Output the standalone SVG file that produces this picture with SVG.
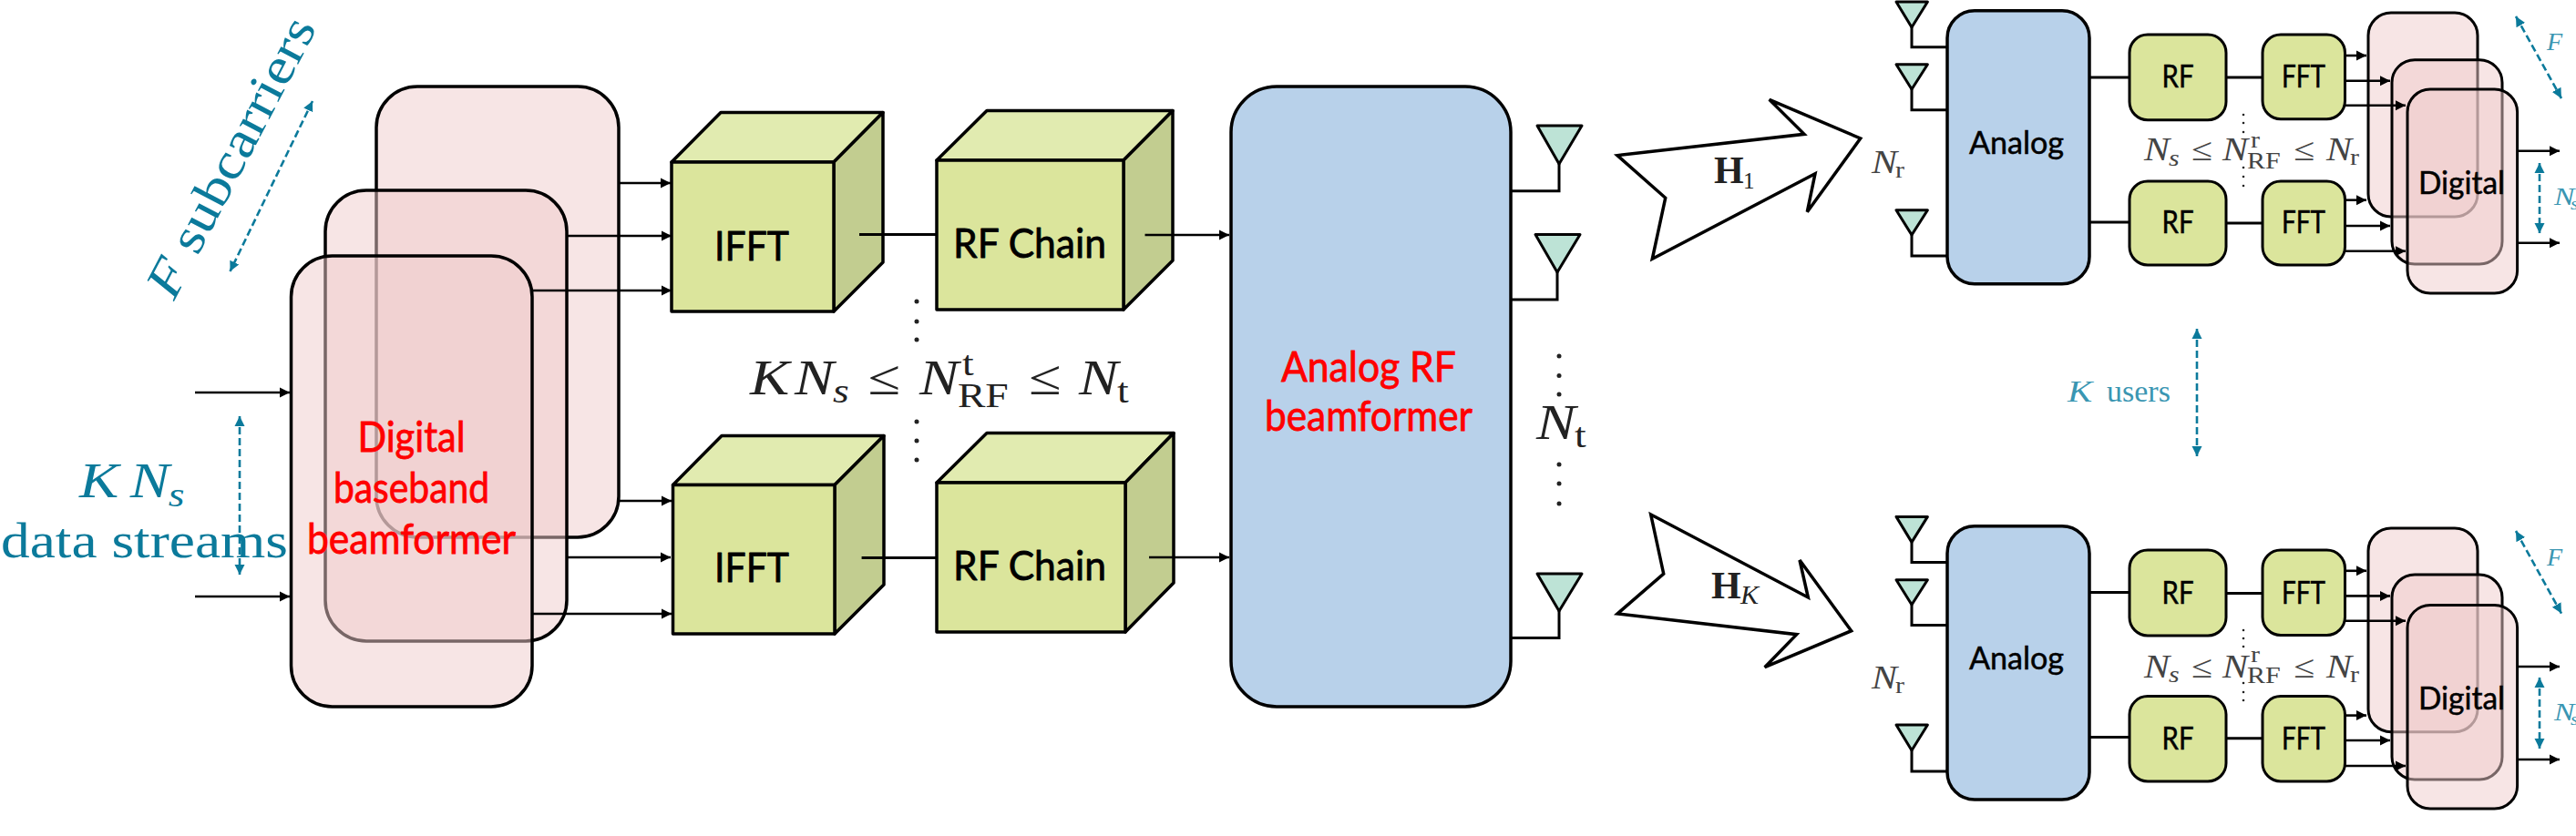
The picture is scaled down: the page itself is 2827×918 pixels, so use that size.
<svg xmlns="http://www.w3.org/2000/svg" width="2827" height="918" viewBox="0 0 2827 918">
<style>
.bk{stroke:#000;stroke-width:3.5;stroke-linejoin:round}
.pink{fill:rgb(240,203,203);fill-opacity:.5;stroke:#000;stroke-width:3.5}
.pk{fill:rgb(240,203,203);fill-opacity:.5;stroke:#000;stroke-width:3}
.blue{fill:#b8d1ea;stroke:#000;stroke-width:3.5}
.f{fill:#dbe59c}.t{fill:#e1ebb0}.s{fill:#c2cd90}
.cube{stroke:#000;stroke-width:3.5;stroke-linejoin:round}
.gr{fill:#dbe59c;stroke:#000;stroke-width:3}
.ant{fill:#bde3d6;stroke:#000;stroke-width:3;stroke-linejoin:round}
.wire{fill:none;stroke:#000;stroke-width:3}
.arr{fill:none;stroke:#000;stroke-width:2.6;marker-end:url(#ah)}
.dash{fill:none;stroke:#0b7a9b;stroke-width:2.6;stroke-dasharray:8 4;marker-start:url(#dh);marker-end:url(#dh)}
.wedge{fill:#fff;stroke:#000;stroke-width:3.5;stroke-linejoin:miter}
.sans{font-family:"Lato","Open Sans","Liberation Sans",sans-serif;text-anchor:middle}
.lab{font-size:45px;fill:#000;stroke:#000;stroke-width:.8}
.red{font-size:47px;fill:#f00;stroke:#f00;stroke-width:.8}
.sm{font-size:34px;fill:#000;stroke:#000;stroke-width:.5}
.m{font-family:"Liberation Serif","DejaVu Serif",serif}
.i{font-style:italic}
.teal{fill:#0b7a9b}
.lt{fill:#3a96b2}
.mk{fill:#222}
.gy{fill:#444}
.dot{fill:#222}
</style>
<defs>
<marker id="ah" markerUnits="userSpaceOnUse" markerWidth="14" markerHeight="14" refX="11" refY="7" orient="auto"><path d="M0,1.500 L11,7 L0,12.500 Z" fill="#000"/></marker>
<marker id="dh" markerUnits="userSpaceOnUse" markerWidth="14" markerHeight="14" refX="11" refY="7" orient="auto-start-reverse"><path d="M0,1.500 L11,7 L0,12.500 Z" fill="#0b7a9b"/></marker>
</defs>

<g id="digital-baseband">
<rect class="pink" x="413" y="95" width="266" height="495" rx="45" ry="45"/>
<rect class="pink" x="357" y="209" width="265" height="495" rx="45" ry="45"/>
<rect class="pink" x="319.500" y="281" width="264.500" height="495" rx="45" ry="45"/>
<text class="sans red" x="451.500" y="496" textLength="118" lengthAdjust="spacingAndGlyphs">Digital</text>
<text class="sans red" x="451.500" y="552" textLength="171" lengthAdjust="spacingAndGlyphs">baseband</text>
<text class="sans red" x="451.500" y="608" textLength="229" lengthAdjust="spacingAndGlyphs">beamformer</text>
</g>

<g id="ifft-1" class="cube">
<path class="t" d="M737,178 L791,123.500 H969 L915,178 Z"/>
<path class="s" d="M915,178 L969,123.500 V288 L915,342 Z"/>
<rect class="f" x="737" y="178" width="178" height="164"/>
<text class="sans lab" x="825" y="286" textLength="82" lengthAdjust="spacingAndGlyphs">IFFT</text>
</g>
<g id="ifft-2" class="cube">
<path class="t" d="M738.500,532.500 L792,478.500 H970 L916,532.500 Z"/>
<path class="s" d="M916,532.500 L970,478.500 V642 L916,696 Z"/>
<rect class="f" x="738.500" y="532.500" width="177.500" height="163.500"/>
<text class="sans lab" x="825" y="639" textLength="82" lengthAdjust="spacingAndGlyphs">IFFT</text>
</g>
<g id="rf-chain-1" class="cube">
<path class="t" d="M1028,176 L1083,121.500 H1287 L1233,176 Z"/>
<path class="s" d="M1233,176 L1287,121.500 V286 L1233,340 Z"/>
<rect class="f" x="1028" y="176" width="205" height="164"/>
<text class="sans lab" x="1130" y="283" textLength="168" lengthAdjust="spacingAndGlyphs">RF Chain</text>
</g>
<g id="rf-chain-2" class="cube">
<path class="t" d="M1028,530 L1083,475.500 H1288 L1235,530 Z"/>
<path class="s" d="M1235,530 L1288,475.500 V640 L1235,694 Z"/>
<rect class="f" x="1028" y="530" width="207" height="164"/>
<text class="sans lab" x="1130" y="637" textLength="168" lengthAdjust="spacingAndGlyphs">RF Chain</text>
</g>

<g id="analog-rf-beamformer">
<rect class="blue" x="1351" y="95" width="307" height="681" rx="50" ry="50"/>
<text class="sans red" x="1502" y="419" textLength="192" lengthAdjust="spacingAndGlyphs">Analog RF</text>
<text class="sans red" x="1502" y="473" textLength="228" lengthAdjust="spacingAndGlyphs">beamformer</text>
</g>

<g id="tx-antennas">
<path class="ant" d="M1687,138 H1736 L1711,180 Z"/>
<path class="ant" d="M1685,257.500 H1734 L1709,299 Z"/>
<path class="ant" d="M1687,630 H1736 L1711,671 Z"/>
</g>

<g id="channel-1">
<polygon class="wedge" points="1775,170.700 1980,147.300 1941.700,109.300 2041.700,152 1983.300,232.700 1992,190.700 1813.300,284.300 1827.700,217.300"/>
<text class="m mk" x="1881" y="200.700" font-size="42" font-weight="bold">H<tspan x="1913" y="207" font-size="25" font-weight="normal">1</tspan></text>
</g>
<g id="channel-k">
<polygon class="wedge" points="1811.700,565 1984.300,656 1975,615 2031.700,692.700 1936.700,732.700 1971.700,696.700 1775,674 1825.700,630"/>
<text class="m mk" x="1878" y="657" font-size="42" font-weight="bold">H<tspan class="i" x="1910" y="663" font-size="30" font-weight="normal">K</tspan></text>
</g>

<g id="user-1">
<path class="ant" d="M2081,2 H2115.400 L2098,30 Z"/>
<path class="ant" d="M2081,70.700 H2115.400 L2098,98 Z"/>
<path class="ant" d="M2081,230.700 H2115.400 L2098,258 Z"/>
<rect class="blue" x="2137" y="11.700" width="156" height="300" rx="30" ry="30"/>
<text class="sans sm" x="2213" y="169" textLength="104" lengthAdjust="spacingAndGlyphs">Analog</text>
<rect class="gr" x="2337" y="38" width="106" height="93.700" rx="20" ry="20"/>
<text class="sans sm" x="2390" y="96" textLength="35" lengthAdjust="spacingAndGlyphs">RF</text>
<rect class="gr" x="2483" y="38" width="90.500" height="92.700" rx="20" ry="20"/>
<text class="sans sm" x="2528" y="96" textLength="48" lengthAdjust="spacingAndGlyphs">FFT</text>
<rect class="gr" x="2337" y="199" width="106" height="92" rx="20" ry="20"/>
<text class="sans sm" x="2390" y="256" textLength="35" lengthAdjust="spacingAndGlyphs">RF</text>
<rect class="gr" x="2483" y="199" width="90.500" height="92" rx="20" ry="20"/>
<text class="sans sm" x="2528" y="256" textLength="48" lengthAdjust="spacingAndGlyphs">FFT</text>
<rect class="pk" x="2599" y="14" width="120" height="224" rx="25" ry="25"/>
<rect class="pk" x="2625" y="65.700" width="121" height="224.300" rx="25" ry="25"/>
<rect class="pk" x="2642" y="98" width="120.600" height="224" rx="25" ry="25"/>
<text class="sans sm" x="2701.500" y="213" textLength="95" lengthAdjust="spacingAndGlyphs">Digital</text>
</g>

<g id="user-k">
<path class="ant" d="M2081,567.400 H2115.400 L2098,595.400 Z"/>
<path class="ant" d="M2081,636.700 H2115.400 L2098,664 Z"/>
<path class="ant" d="M2081,796 H2115.400 L2098,824 Z"/>
<rect class="blue" x="2137" y="577.700" width="156" height="300.300" rx="30" ry="30"/>
<text class="sans sm" x="2213" y="735" textLength="104" lengthAdjust="spacingAndGlyphs">Analog</text>
<rect class="gr" x="2337" y="604" width="106" height="94" rx="20" ry="20"/>
<text class="sans sm" x="2390" y="662.500" textLength="35" lengthAdjust="spacingAndGlyphs">RF</text>
<rect class="gr" x="2483" y="604" width="90.500" height="93.500" rx="20" ry="20"/>
<text class="sans sm" x="2528" y="662.500" textLength="48" lengthAdjust="spacingAndGlyphs">FFT</text>
<rect class="gr" x="2337" y="764.600" width="106" height="93.400" rx="20" ry="20"/>
<text class="sans sm" x="2390" y="823" textLength="35" lengthAdjust="spacingAndGlyphs">RF</text>
<rect class="gr" x="2483" y="764.600" width="90.500" height="93.400" rx="20" ry="20"/>
<text class="sans sm" x="2528" y="823" textLength="48" lengthAdjust="spacingAndGlyphs">FFT</text>
<rect class="pk" x="2599" y="580" width="120" height="223.700" rx="25" ry="25"/>
<rect class="pk" x="2625" y="631" width="121" height="225" rx="25" ry="25"/>
<rect class="pk" x="2642" y="664.400" width="120.600" height="223.600" rx="25" ry="25"/>
<text class="sans sm" x="2701.500" y="778.600" textLength="95" lengthAdjust="spacingAndGlyphs">Digital</text>
</g>

<g id="connectors">
<path class="arr" d="M214,431 H318"/>
<path class="arr" d="M214,655 H318"/>
<path class="arr" d="M679,201 H736"/>
<path class="arr" d="M622,259 H737"/>
<path class="arr" d="M584,319 H737"/>
<path class="arr" d="M679,550 H737"/>
<path class="arr" d="M622,612 H736"/>
<path class="arr" d="M584,674 H737"/>
<path class="wire" d="M943,257.500 H1028"/>
<path class="wire" d="M945.600,612.500 H1028"/>
<path class="arr" d="M1256.500,258 H1349"/>
<path class="arr" d="M1261,612 H1349"/>
<path class="wire" d="M1711,180 V209.700 H1658"/>
<path class="wire" d="M1709,299 V329 H1658"/>
<path class="wire" d="M1711,671 V700.600 H1658"/>
<path class="wire" d="M2098,30 V51.700 H2137"/>
<path class="wire" d="M2098,98 V120.700 H2137"/>
<path class="wire" d="M2098,258 V281 H2137"/>
<path class="wire" d="M2293,85 H2337"/>
<path class="wire" d="M2293,244 H2337"/>
<path class="wire" d="M2443,85 H2483"/>
<path class="wire" d="M2443,245 H2483"/>
<path class="arr" d="M2573.500,61 H2597"/>
<path class="arr" d="M2573.500,88.700 H2623"/>
<path class="arr" d="M2573.500,115.700 H2640"/>
<path class="arr" d="M2573.500,219.700 H2597"/>
<path class="arr" d="M2573.500,248 H2623"/>
<path class="arr" d="M2573.500,275.700 H2640"/>
<path class="arr" d="M2762.600,165.700 H2809"/>
<path class="arr" d="M2762.600,266.700 H2809"/>
<path class="wire" d="M2098,595.400 V617.600 H2137"/>
<path class="wire" d="M2098,664 V686.500 H2137"/>
<path class="wire" d="M2098,824 V847 H2137"/>
<path class="wire" d="M2293,650.400 H2337"/>
<path class="wire" d="M2293,809.600 H2337"/>
<path class="wire" d="M2443,651.500 H2483"/>
<path class="wire" d="M2443,810.700 H2483"/>
<path class="arr" d="M2573.500,626.800 H2597"/>
<path class="arr" d="M2573.500,654.400 H2623"/>
<path class="arr" d="M2573.500,681.700 H2640"/>
<path class="arr" d="M2573.500,785.600 H2597"/>
<path class="arr" d="M2573.500,813 H2623"/>
<path class="arr" d="M2573.500,841 H2640"/>
<path class="arr" d="M2762.600,732 H2809"/>
<path class="arr" d="M2762.600,834 H2809"/>
<path class="dash" d="M263,457 V631"/>
<path class="dash" d="M343,111 L252.500,298"/>
<path class="dash" d="M2411,361 V501"/>
<path class="dash" d="M2787,179 V256"/>
<path class="dash" d="M2761,18 L2811,108"/>
<path class="dash" d="M2787,744 V822"/>
<path class="dash" d="M2761,583 L2811,673.600"/>
</g>

<g id="labels">
<text class="m teal" transform="translate(191,331) rotate(-62.400)" font-size="56" textLength="339" lengthAdjust="spacingAndGlyphs"><tspan class="i">F</tspan> subcarriers</text>
<text class="m teal" font-size="54" transform="scale(1.2 1)"><tspan class="i" x="72.500" y="546">K</tspan><tspan class="i" x="119" y="546">N</tspan><tspan class="i" x="154" y="556" font-size="38">s</tspan></text>
<text class="m teal" x="1" y="612" font-size="54" textLength="315" lengthAdjust="spacingAndGlyphs">data streams</text>
<text class="m mk" font-size="54" transform="scale(1.2 1)"><tspan class="i" x="685.800" y="433">K</tspan><tspan class="i" x="726.700" y="433">N</tspan><tspan class="i" x="761.700" y="442" font-size="38">s</tspan><tspan x="794" y="433">≤</tspan><tspan class="i" x="840.800" y="433">N</tspan><tspan x="880" y="412" font-size="38">t</tspan><tspan x="875.800" y="447" font-size="38">RF</tspan><tspan x="941" y="433">≤</tspan><tspan class="i" x="986.700" y="433">N</tspan><tspan x="1021.700" y="442" font-size="38">t</tspan></text>
<text class="m mk" font-size="54" transform="scale(1.2 1)"><tspan class="i" x="1405" y="482">N</tspan><tspan x="1440" y="491" font-size="38">t</tspan></text>
<g class="dot">
<circle cx="1006" cy="331" r="2.500"/><circle cx="1006" cy="353" r="2.500"/><circle cx="1006" cy="373" r="2.500"/>
<circle cx="1006" cy="463" r="2.500"/><circle cx="1006" cy="484" r="2.500"/><circle cx="1006" cy="505" r="2.500"/>
<circle cx="1711" cy="391" r="2.500"/><circle cx="1711" cy="412.500" r="2.500"/><circle cx="1711" cy="433" r="2.500"/>
<circle cx="1711" cy="510" r="2.500"/><circle cx="1711" cy="531" r="2.500"/><circle cx="1711" cy="553" r="2.500"/>
<circle cx="2462" cy="126" r="1.300"/><circle cx="2462" cy="135" r="1.300"/><circle cx="2462" cy="145" r="1.300"/>
<circle cx="2462" cy="184" r="1.300"/><circle cx="2462" cy="194" r="1.300"/><circle cx="2462" cy="204" r="1.300"/>
<circle cx="2462" cy="692" r="1.300"/><circle cx="2462" cy="701" r="1.300"/><circle cx="2462" cy="710" r="1.300"/>
<circle cx="2462" cy="750" r="1.300"/><circle cx="2462" cy="760" r="1.300"/><circle cx="2462" cy="769" r="1.300"/>
</g>
<text class="m gy" font-size="35" transform="scale(1.2 1)"><tspan class="i" x="1711.700" y="190">N</tspan><tspan x="1733.300" y="195" font-size="25">r</tspan></text>
<text class="m gy" font-size="35" transform="scale(1.2 1)"><tspan class="i" x="1711.700" y="756.500">N</tspan><tspan x="1733.300" y="761" font-size="25">r</tspan></text>
<text class="m gy" font-size="35" transform="scale(1.2 1)"><tspan class="i" x="1960.800" y="176">N</tspan><tspan class="i" x="1983.300" y="182" font-size="25">s</tspan><tspan x="2004" y="176">≤</tspan><tspan class="i" x="2032.500" y="176">N</tspan><tspan x="2058.300" y="162" font-size="25">r</tspan><tspan x="2055" y="185" font-size="25">RF</tspan><tspan x="2097.500" y="176">≤</tspan><tspan class="i" x="2127.500" y="176">N</tspan><tspan x="2149.200" y="181" font-size="25">r</tspan></text>
<text class="m gy" font-size="35" transform="scale(1.2 1)"><tspan class="i" x="1960.800" y="743.600">N</tspan><tspan class="i" x="1983.300" y="749" font-size="25">s</tspan><tspan x="2004" y="743.600">≤</tspan><tspan class="i" x="2032.500" y="743.600">N</tspan><tspan x="2058.300" y="727" font-size="25">r</tspan><tspan x="2055" y="750" font-size="25">RF</tspan><tspan x="2097.500" y="743.600">≤</tspan><tspan class="i" x="2127.500" y="743.600">N</tspan><tspan x="2149.200" y="749" font-size="25">r</tspan></text>
<text class="m lt i" font-size="34" transform="scale(1.2 1)" x="1890.800" y="441">K</text>
<text class="m lt" font-size="34" x="2312" y="441">users</text>
<text class="m lt i" x="2795" y="55" font-size="28">F</text>
<text class="m lt i" x="2795" y="621" font-size="28">F</text>
<text class="m lt i" font-size="28" transform="scale(1.2 1)"><tspan x="2335.800" y="225">N</tspan><tspan x="2350.800" y="230" font-size="19">s</tspan></text>
<text class="m lt i" font-size="28" transform="scale(1.2 1)"><tspan x="2335.800" y="791.500">N</tspan><tspan x="2350.800" y="796" font-size="19">s</tspan></text>
</g>
</svg>
